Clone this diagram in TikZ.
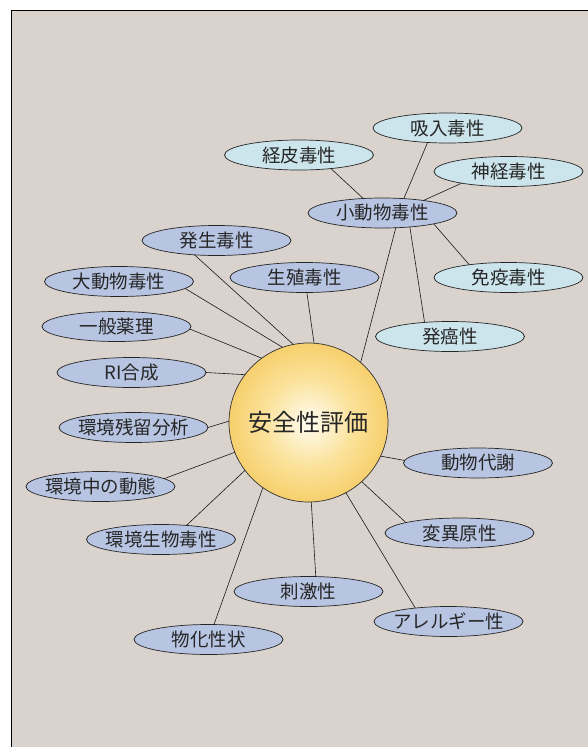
\documentclass[tikz,border=0pt]{standalone}
\usepackage{fontspec}
\setmainfont{Noto Sans CJK JP}
\usetikzlibrary{shapes.geometric}
\definecolor{bgc}{HTML}{DAD2CC}
\definecolor{bluefill}{HTML}{B8C5E2}
\definecolor{cyanfill}{HTML}{CCE5EC}
\definecolor{suncenter}{HTML}{FFFDF2}
\definecolor{sunmid}{HTML}{FBE29A}
\definecolor{sunedge}{HTML}{F0B020}
\pgfdeclareradialshading{sunshade}{\pgfpoint{0bp}{0bp}}{color(0bp)=(suncenter); color(14bp)=(sunmid); color(38bp)=(sunedge!80!sunmid); color(50bp)=(sunedge); color(100bp)=(sunedge)}
\newcommand{\ovtxt}[1]{\makebox[0pt][c]{#1}}
\tikzset{
  oval/.style={ellipse, draw=black!85, line width=0.7pt, minimum width=149pt, minimum height=30pt, inner sep=0pt, outer sep=0pt, font=\fontsize{18.5}{21}\selectfont, text=black!85},
  blueoval/.style={oval, fill=bluefill},
  cyanoval/.style={oval, fill=cyanfill},
  link/.style={draw=black!90, line width=0.6pt},
}
\begin{document}
\begin{tikzpicture}[x=1pt,y=-1pt]
\useasboundingbox (0,0) rectangle (588,747);
\fill[white] (0,0) rectangle (588,747);
\draw[fill=bgc, line width=1pt] (11,10) rectangle (600,760);

\node[circle, draw=black!80, line width=0.7pt, minimum size=159pt, inner sep=0pt, outer sep=0pt, shading=sunshade, font=\fontsize{24}{27}\selectfont, text=black!85] (c) at (308.5,422.5) {安全性評価};

\node[blueoval] (small) at (382.5,213) {\ovtxt{小動物毒性}};
\node[cyanoval] (inhal) at (447.5,128) {\ovtxt{吸入毒性}};
\node[cyanoval] (derm) at (299,155) {\ovtxt{経皮毒性}};
\node[cyanoval] (neuro) at (508.5,171.5) {\ovtxt{神経毒性}};
\node[cyanoval] (immun) at (508.5,277.5) {\ovtxt{免疫毒性}};
\node[cyanoval] (carc) at (450,336.5) {\ovtxt{発癌性}};

\node[blueoval] (repro) at (304.5,277.5) {\ovtxt{生殖毒性}};
\node[blueoval] (devel) at (216.5,240.5) {\ovtxt{発生毒性}};
\node[blueoval] (large) at (119,281.5) {\ovtxt{大動物毒性}};
\node[blueoval] (pharm) at (116.5,326.5) {\ovtxt{一般薬理}};
\node[blueoval] (ri) at (131.5,372.5) {\ovtxt{RI合成}};
\node[blueoval] (resid) at (133.5,427.5) {\ovtxt{環境残留分析}};
\node[blueoval] (fate) at (100.5,486.5) {\ovtxt{環境中の動態}};
\node[blueoval] (ecotox) at (161,539.5) {\ovtxt{環境生物毒性}};
\node[blueoval] (phys) at (208.5,639.5) {\ovtxt{物化性状}};
\node[blueoval] (irrit) at (308.5,591.5) {\ovtxt{刺激性}};
\node[blueoval] (aller) at (448.5,621.5) {\ovtxt{アレルギー性}};
\node[blueoval] (mutag) at (459.5,533) {\ovtxt{変異原性}};
\node[blueoval] (metab) at (478,463) {\ovtxt{動物代謝}};

\path[link] (inhal.216.2) -- (small.34.9);
\path[link] (derm.337) -- (small.143.8);
\path[link] (neuro.194.2) -- (small.17.5);
\path[link] (immun.162.7) -- (small.348.6);
\path[link] (carc.151.9) -- (small.333);

\path[link] (small.312.2) -- (c.49.8);
\path[link] (repro.279.2) -- (c.86.1);
\path[link] (devel.213.4) -- (c.101.7);
\path[link] (large.-6.6) -- (c.109.1);
\path[link] (pharm.-2.7) -- (c.126.5);
\path[link] (ri.0) -- (c.143.1);
\path[link] (resid.0) -- (c.179);
\path[link] (fate.7.2) -- (c.202);
\path[link] (ecotox.29.9) -- (c.217.5);
\path[link] (phys.70.5) -- (c.235.6);
\path[link] (irrit.64.2) -- (c.272.5);
\path[link] (aller.158.9) -- (c.298.6);
\path[link] (mutag.169.7) -- (c.312);
\path[link] (metab.178.5) -- (c.335.8);
\end{tikzpicture}
\end{document}
